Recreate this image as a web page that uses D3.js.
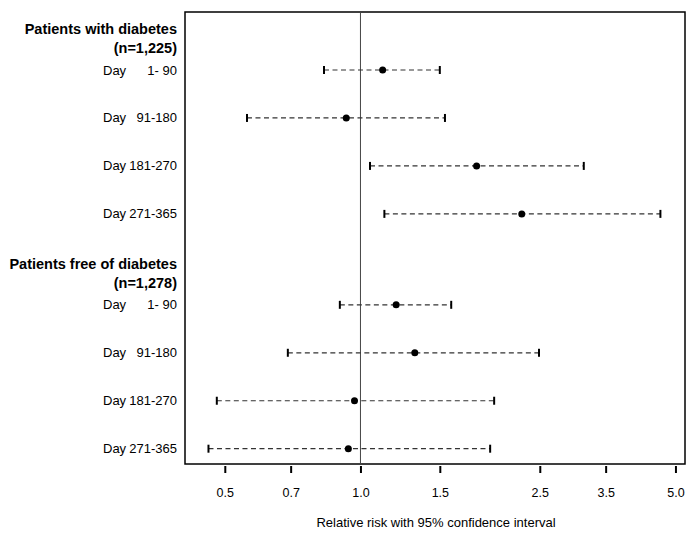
<!DOCTYPE html>
<html><head><meta charset="utf-8">
<script src="https://cdn.jsdelivr.net/npm/d3@7"></script>
<style>
body{margin:0;background:#fff;}
text{font-family:"Liberation Sans",Arial,sans-serif;fill:#000;}
</style></head>
<body><svg id="chart" width="687" height="534"></svg>
<script>
const groups = ["Patients with diabetes", "Patients free of diabetes"];
const groupN = ["(n=1,225)", "(n=1,278)"];
const periods = ["1- 90", "91-180", "181-270", "271-365"];
const estDiabetes   = [1.12, 0.93, 1.81, 2.28];
const lowDiabetes   = [0.83, 0.56, 1.05, 1.13];
const highDiabetes  = [1.50, 1.54, 3.13, 4.63];
const estFree       = [1.20, 1.32, 0.97, 0.94];
const lowFree       = [0.90, 0.69, 0.48, 0.46];
const highFree      = [1.59, 2.49, 1.98, 1.94];
const tickValues = [0.5, 0.7, 1.0, 1.5, 2.5, 3.5, 5.0];
const xTitle = "Relative risk with 95% confidence interval";

const rows = [];
[[estDiabetes, lowDiabetes, highDiabetes], [estFree, lowFree, highFree]].forEach((g, gi) => {
  periods.forEach((p, i) => rows.push({group: gi, idx: i, label: p, est: g[0][i], lo: g[1][i], hi: g[2][i]}));
});

const svg = d3.select("#chart");
const box = {left: 185, right: 685, top: 12, bottom: 464};

const x = d3.scaleLog().domain([0.408, 5.25]).range([box.left, box.right]);
const groupGap = 1.896;
const slot = d => d.group * (periods.length - 1 + groupGap) + d.idx;
const y = d3.scaleLinear().domain([0, 2 * (periods.length - 1) + groupGap]).range([70, 448.7]);

svg.append("rect").attr("x", box.left).attr("y", box.top)
  .attr("width", box.right - box.left).attr("height", box.bottom - box.top)
  .attr("fill", "none").attr("stroke", "#000").attr("stroke-width", 1.5);

svg.append("line").attr("x1", x(1)).attr("x2", x(1)).attr("y1", box.top).attr("y2", box.bottom)
  .attr("stroke", "#444").attr("stroke-width", 1);

const axis = d3.axisBottom(x).tickValues(tickValues).tickFormat(d3.format(".1f"))
  .tickSize(7).tickPadding(15);
const ag = svg.append("g").attr("transform", `translate(0,${box.bottom + 2})`).call(axis);
ag.select(".domain").remove();
ag.selectAll(".tick line").attr("stroke", "#000").attr("stroke-width", 2);
ag.selectAll(".tick text").attr("font-size", 12.5).attr("font-family", "Liberation Sans, Arial, sans-serif").attr("fill", "#000");

svg.append("text").attr("x", (box.left + box.right) / 2 + 1).attr("y", 527)
  .attr("text-anchor", "middle").attr("font-size", 13).text(xTitle);

groups.forEach((g, gi) => {
  const firstY = y(slot({group: gi, idx: 0}));
  svg.append("text").attr("x", 177).attr("y", firstY - 36).attr("text-anchor", "end")
    .attr("font-size", 14.5).attr("font-weight", "bold").text(g);
  svg.append("text").attr("x", 177).attr("y", firstY - 17).attr("text-anchor", "end")
    .attr("font-size", 14.5).attr("font-weight", "bold").text(groupN[gi]);
});

svg.selectAll(".rowday").data(rows).join("text").attr("class", "rowday")
  .attr("x", 103).attr("y", d => y(slot(d)) + 4.5).attr("text-anchor", "start")
  .attr("font-size", 13).text("Day");
svg.selectAll(".rowlab").data(rows).join("text").attr("class", "rowlab")
  .attr("x", 177).attr("y", d => y(slot(d)) + 4.5).attr("text-anchor", "end")
  .attr("font-size", 13).text(d => d.label);

const ci = svg.selectAll(".ci").data(rows).join("g").attr("class", "ci");
ci.append("line").attr("x1", d => x(d.lo)).attr("x2", d => x(d.hi))
  .attr("y1", d => y(slot(d))).attr("y2", d => y(slot(d)))
  .attr("stroke", "#333").attr("stroke-width", 1.2).attr("stroke-dasharray", "5,3.5");
ci.append("line").attr("x1", d => x(d.lo)).attr("x2", d => x(d.lo))
  .attr("y1", d => y(slot(d)) - 4).attr("y2", d => y(slot(d)) + 4)
  .attr("stroke", "#000").attr("stroke-width", 2);
ci.append("line").attr("x1", d => x(d.hi)).attr("x2", d => x(d.hi))
  .attr("y1", d => y(slot(d)) - 4).attr("y2", d => y(slot(d)) + 4)
  .attr("stroke", "#000").attr("stroke-width", 2);
ci.append("circle").attr("cx", d => x(d.est)).attr("cy", d => y(slot(d))).attr("r", 3.5).attr("fill", "#000");
</script>
</body></html>
